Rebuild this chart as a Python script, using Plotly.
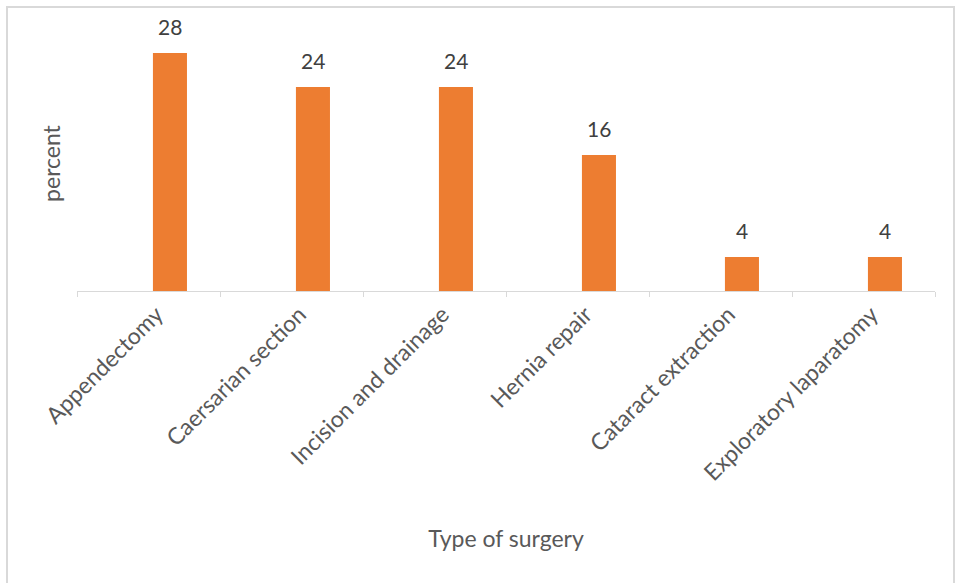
import plotly.graph_objects as go

categories = ["Appendectomy", "Caersarian section", "Incision and drainage",
              "Hernia repair", "Cataract extraction", "Exploratory laparatomy"]
percent = [28, 24, 24, 16, 4, 4]

BAR_COLOR = "#ED7D31"
TEXT_GREY = "#595959"
FONT = "Lato, Calibri, sans-serif"

fig = go.Figure()
fig.add_trace(go.Bar(
    x=categories, y=percent,
    marker=dict(color=BAR_COLOR, line=dict(width=0)),
    offset=0.031, width=0.238,
    hoverinfo="x+y",
))

for c, v in zip(categories, percent):
    fig.add_annotation(
        x=c, y=v, text=str(v), showarrow=False,
        xshift=0.15 * 143, yshift=12, yanchor="bottom",
        font=dict(family=FONT, size=21, color="#404040"),
    )

fig.add_shape(type="rect", xref="paper", yref="paper",
              x0=-70/858, x1=(954-77)/858, y0=-300/255, y1=(291-7)/255,
              line=dict(color="#d9d9d9", width=2), fillcolor="rgba(0,0,0,0)")

fig.update_layout(
    width=957, height=583,
    margin=dict(l=77, r=22, t=36, b=292),
    plot_bgcolor="white", paper_bgcolor="white",
    showlegend=False,
    font=dict(family=FONT, color=TEXT_GREY),
    xaxis=dict(
        type="category",
        showline=True, linecolor="#d9d9d9", linewidth=1,
        ticks="outside", tickson="boundaries", ticklen=5, tickcolor="#d9d9d9",
        tickangle=-45, tickfont=dict(family=FONT, size=23, color=TEXT_GREY),
        ticklabelshift=8,
        title=dict(text="Type of surgery", font=dict(family=FONT, size=23, color=TEXT_GREY), standoff=46),
        showgrid=False, zeroline=False,
    ),
    yaxis=dict(
        range=[0, 30], showticklabels=False, showgrid=False, zeroline=False,
        showline=False, ticks="",
        title=dict(text="percent", font=dict(family=FONT, size=23, color=TEXT_GREY), standoff=8),
    ),
)

fig.write_html("out.html")
